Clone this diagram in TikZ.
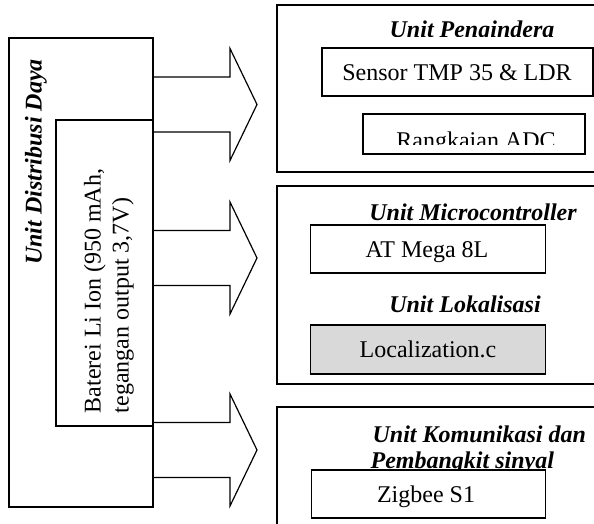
\documentclass[tikz,border=0pt]{standalone}
\usepackage{fontspec}
\setmainfont{Liberation Serif}
\begin{document}
\begin{tikzpicture}[x=1pt,y=-1pt,line width=1.2pt,
  box/.style={draw,rectangle,inner sep=0pt,fill=white},
  txt/.style={inner sep=0pt,font=\fontsize{24}{28}\selectfont},
  unitlbl/.style={inner sep=0pt,font=\fontsize{24}{28}\selectfont\bfseries\itshape},
  powerarrow/.pic={\draw[line join=miter] (0,-27.5) -- (77,-27.5) -- (77,-56) -- (104,0)
      -- (77,56) -- (77,27.5) -- (0,27.5);}]
\useasboundingbox (0,0) rectangle (594,524);
\clip (0,0) rectangle (594,524);

% power distribution unit with its battery
\node[box,minimum width=144pt,minimum height=469pt] (dist) at (81,272.5) {};
\node[box,minimum width=97pt,minimum height=306pt] (batt) at (104.5,273) {};
\node[unitlbl,rotate=90] (distlbl) at (36,162) {Unit Distribusi Daya};
\node[txt,rotate=90,align=left] (battlbl) at (109,291)
  {Baterei Li Ion (950 mAh,\\tegangan output 3,7V)};

% power arrows towards the three units
\coordinate (a1) at (153,104.5);
\coordinate (a2) at (153,258);
\coordinate (a3) at (153,450);
\pic at (a1) {powerarrow};
\pic at (a2) {powerarrow};
\pic at (a3) {powerarrow};

% sensing unit
\node[box,minimum width=333pt,minimum height=167pt] (sense) at (443.5,88.5) {};
\begin{scope}
  \clip (277,0) rectangle (600,37);
  \node[unitlbl,anchor=base] (senselbl) at (472,38) {Unit Pengindera};
\end{scope}
\node[box,minimum width=271pt,minimum height=48pt] (sensor) at (457.5,72) {};
\node[txt,anchor=base] at (457,81) {Sensor TMP 35 \& LDR};
\node[box,minimum width=222pt,minimum height=40pt] (adc) at (474,134) {};
\begin{scope}
  \clip (363,114) rectangle (585,144);
  \node[txt,anchor=base] at (476,148) {Rangkaian ADC};
\end{scope}

% microcontroller and localisation unit
\node[box,minimum width=333pt,minimum height=198pt] (mcu) at (443.5,285) {};
\node[unitlbl,anchor=base] (mculbl) at (473,220) {Unit Microcontroller};
\node[box,minimum width=235pt,minimum height=48pt] (atmega) at (428,249) {};
\node[txt,anchor=base] at (427,257) {AT Mega 8L};
\node[unitlbl,anchor=base] (loclbl) at (465,312) {Unit Lokalisasi};
\node[box,fill=black!15,minimum width=235pt,minimum height=49pt] (loc) at (428,349.5) {};
\node[txt,anchor=base] at (428,357) {Localization.c};

% communication unit
\node[box,minimum width=333pt,minimum height=152pt] (comm) at (443.5,483) {};
\node[unitlbl,anchor=base west] (commlbl1) at (372,442) {Unit Komunikasi dan};
\node[unitlbl,anchor=base west] (commlbl2) at (370,468) {Pembangkit sinyal};
\node[box,minimum width=234pt,minimum height=48pt] (zigbee) at (428.5,494) {};
\node[txt,anchor=base] at (426,502) {Zigbee S1};
\end{tikzpicture}
\end{document}
